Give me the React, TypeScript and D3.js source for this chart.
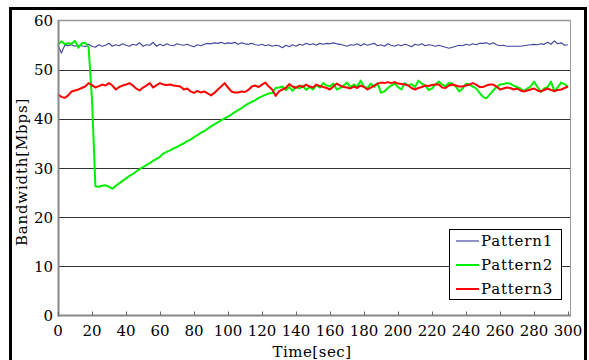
import React from "react";
import * as d3 from "d3";

const xTicks = [0, 20, 40, 60, 80, 100, 120, 140, 160, 180, 200, 220, 240, 260, 280, 300];
const yTicks = [0, 10, 20, 30, 40, 50, 60];
const seriesNames = ["Pattern1", "Pattern2", "Pattern3"];
const seriesColors = ["#4646a0", "#00f000", "#ff0000"];
const timeStep = 2; // seconds between samples

const pattern1 = [
  55.0, 53.4, 55.0, 54.9, 55.1, 54.8, 55.0, 54.9, 54.7, 55.2, 54.8, 54.6, 55.1, 54.8, 55.0, 55.4,
  54.8, 55.1, 54.9, 55.3, 55.0, 54.8, 55.2, 55.0, 55.5, 54.8, 55.1, 55.0, 55.6, 54.8, 55.2, 54.9,
  55.3, 55.0, 54.9, 55.3, 55.1, 55.0, 55.2, 54.9, 54.7, 55.1, 54.9, 55.2, 55.4, 55.3, 55.5, 55.4,
  55.6, 55.3, 55.5, 55.4, 55.6, 55.2, 55.5, 55.3, 55.2, 55.4, 55.1, 55.0, 55.2, 54.9, 55.1, 54.8,
  55.0, 54.9, 54.5, 55.0, 54.7, 55.1, 54.8, 55.2, 55.0, 55.4, 55.1, 55.3, 55.0, 55.4, 55.2, 55.4,
  55.3, 55.5, 55.3, 55.2, 55.0, 54.8, 55.1, 55.0, 55.3, 54.9, 55.3, 55.0, 55.2, 55.4, 54.9, 55.1,
  54.8, 55.3, 55.0, 54.8, 55.1, 54.9, 55.2, 55.0, 54.7, 55.2, 55.0, 55.3, 54.9, 55.1, 55.0, 54.8,
  55.0, 54.8, 54.6, 54.4, 54.6, 54.8, 55.0, 54.9, 55.2, 55.0, 55.3, 55.1, 55.4, 55.4, 55.5, 55.2,
  55.5, 55.1, 54.9, 55.0, 54.8, 54.8, 54.8, 54.8, 54.8, 54.9, 55.0, 55.1, 55.2, 55.1, 55.3, 55.2,
  55.6, 55.2, 55.9, 55.3, 55.5, 55.0, 55.1,
];

const pattern2 = [
  55.1, 55.8, 55.2, 55.4, 55.3, 55.9, 54.5, 55.4, 55.5, 54.6, 44.0, 26.3, 26.2, 26.4, 26.5, 26.2,
  25.8, 26.4, 26.9, 27.4, 27.9, 28.4, 28.8, 29.3, 29.8, 30.2, 30.6, 31.0, 31.5, 31.9, 32.3, 33.0,
  33.3, 33.6, 34.0, 34.3, 34.7, 35.0, 35.5, 35.8, 36.3, 36.7, 37.2, 37.5, 38.0, 38.5, 38.9, 39.3,
  39.7, 40.1, 40.5, 40.9, 41.4, 41.8, 42.2, 42.7, 43.1, 43.5, 43.8, 44.3, 44.6, 44.9, 45.2, 45.3,
  46.3, 46.4, 46.6, 45.9, 46.5, 45.7, 46.6, 46.2, 46.8, 45.9, 46.5, 46.0, 46.9, 46.4, 47.3, 46.8,
  46.6, 47.2, 46.0, 46.3, 46.8, 47.4, 46.5, 47.0, 46.6, 47.8, 46.6, 46.3, 47.2, 46.5, 47.3, 45.3,
  45.6, 46.3, 46.8, 47.2, 46.5, 46.0, 47.3, 46.8, 47.1, 46.5, 47.8, 47.2, 46.8, 45.9, 46.2, 47.0,
  47.6, 47.0, 46.7, 47.3, 47.2, 46.6, 45.6, 46.2, 47.2, 47.0, 46.6, 46.2, 45.3, 44.5, 44.2, 45.0,
  45.8, 46.5, 47.0, 47.1, 47.3, 47.2, 46.8, 46.5, 46.2, 45.7, 46.2, 46.6, 47.6, 46.5, 45.5, 46.2,
  46.5, 47.6, 45.6, 46.5, 47.4, 47.1, 46.5,
];

const pattern3 = [
  45.0, 44.5, 44.3, 44.8, 45.6, 45.8, 46.0, 46.3, 46.6, 47.3, 46.9, 46.4, 46.7, 47.0, 46.8, 47.3,
  46.8, 46.0, 46.5, 46.8, 47.0, 47.3, 46.8, 46.2, 45.8, 46.4, 46.8, 47.3, 46.4, 46.9, 47.3, 47.0,
  46.9, 47.0, 46.8, 46.7, 46.6, 46.0, 46.2, 45.6, 45.3, 45.7, 45.4, 45.6, 45.2, 44.8, 45.3, 46.0,
  46.6, 47.3, 46.4, 45.6, 45.4, 45.4, 45.6, 45.5, 45.9, 46.6, 46.8, 46.5, 47.0, 47.4, 46.6, 46.0,
  44.7, 45.6, 46.0, 46.3, 47.1, 46.6, 46.3, 46.8, 46.5, 47.0, 46.6, 46.4, 47.0, 46.7, 46.5, 46.3,
  46.0, 46.6, 47.2, 46.8, 46.5, 46.4, 46.2, 46.6, 46.3, 46.8, 46.5, 46.0, 46.4, 46.8, 47.2, 47.4,
  47.3, 47.5, 47.3, 47.5, 47.2, 47.1, 47.0, 46.8, 46.3, 46.0, 46.3, 46.5, 46.8, 46.7, 46.9, 47.0,
  47.0, 46.4, 46.3, 46.8, 47.0, 46.8, 46.6, 46.6, 46.8, 47.0, 47.3, 47.0, 46.5, 46.5, 46.8, 47.0,
  47.0, 46.6, 46.0, 46.2, 46.4, 46.3, 46.0, 46.2, 45.8, 45.6, 45.8, 46.0, 46.2, 45.8, 45.6, 45.9,
  46.2, 45.9, 45.7, 45.9, 46.0, 46.3, 46.6,
];

const allSeries = [pattern1, pattern2, pattern3];
const seriesWidths = [1.2, 2, 2];

const W = 589;
const H = 360;
const FONT = "'DejaVu Serif', serif";

export default function App() {
  const x = d3.scaleLinear().domain([0, 300]).range([58, 568]);
  const y = d3.scaleLinear().domain([0, 60]).range([315.5, 20.7]);
  const line = d3
    .line<number>()
    .x((_, i) => x(i * timeStep))
    .y((d) => y(d));

  const legX = 449;
  const legY = 229;
  const legW = 112;
  const legH = 70;

  return (
    <svg
      width={W}
      height={H}
      style={{ position: "absolute", left: 0, top: 0, background: "#fff" }}
      fontFamily={FONT}
    >
      <rect x={0} y={0} width={W} height={H} fill="#fff" />
      {/* outer border */}
      <rect x={10.5} y={8.5} width={575} height={360} fill="none" stroke="#000" strokeWidth={3} />

      {/* grid lines */}
      {yTicks
        .filter((v) => v > 0 && v < 60)
        .map((v) => (
          <line key={v} x1={58} x2={571} y1={Math.round(y(v)) + 0.5} y2={Math.round(y(v)) + 0.5} stroke="#333" strokeWidth={1} />
        ))}

      {/* plot frame */}
      <line x1={58} x2={571} y1={20.5} y2={20.5} stroke="#999" strokeWidth={1.5} />
      <line x1={570.5} x2={570.5} y1={20} y2={315} stroke="#999" strokeWidth={1} />

      {/* series */}
      {allSeries.map((s, k) => (
        <path
          key={k}
          d={line(s) || ""}
          fill="none"
          stroke={seriesColors[k]}
          strokeWidth={seriesWidths[k]}
          strokeLinejoin="round"
        />
      ))}

      {/* axes */}
      <line x1={58.5} x2={58.5} y1={20} y2={316.5} stroke="#888" strokeWidth={2} />
      <line x1={57.5} x2={571} y1={315.5} y2={315.5} stroke="#888" strokeWidth={2} />
      {xTicks.map((t) => (
        <line key={t} x1={Math.round(x(t)) + 0.5} x2={Math.round(x(t)) + 0.5} y1={311.5} y2={315} stroke="#666" strokeWidth={1} />
      ))}

      {/* tick labels */}
      {xTicks.map((t) => (
        <text key={t} x={x(t)} y={336} textAnchor="middle" fontSize={15} fill="#000">
          {t}
        </text>
      ))}
      {yTicks.map((v) => (
        <text key={v} x={53} y={y(v) + 5.5} textAnchor="end" fontSize={15} fill="#000">
          {v}
        </text>
      ))}

      {/* axis titles */}
      <text x={312} y={357} textAnchor="middle" fontSize={15} letterSpacing={0.5} fill="#000">
        Time[sec]
      </text>
      <text
        transform={`translate(27,172) rotate(-90)`}
        textAnchor="middle"
        fontSize={15}
        letterSpacing={0.8}
        fill="#000"
      >
        Bandwidth[Mbps]
      </text>

      {/* legend */}
      <rect x={legX + 0.5} y={legY + 0.5} width={legW} height={legH} fill="#fff" stroke="#000" strokeWidth={1} />
      {seriesNames.map((n, k) => {
        const cy = legY + 12 + k * 24;
        return (
          <g key={n}>
            <line x1={456} x2={479} y1={cy} y2={cy} stroke={seriesColors[k]} strokeWidth={k === 0 ? 1.2 : 2} />
            <text x={481} y={cy + 5} fontSize={15} letterSpacing={0.8} fill="#000">
              {n}
            </text>
          </g>
        );
      })}
    </svg>
  );
}
